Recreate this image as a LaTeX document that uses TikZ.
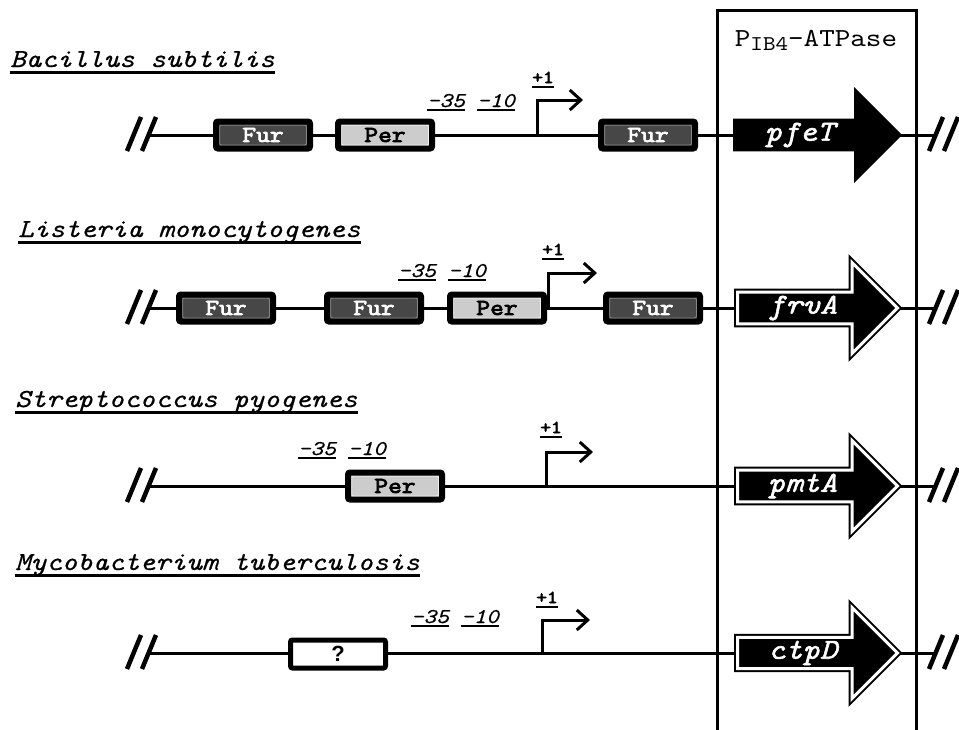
\documentclass[tikz,border=0pt]{standalone}
\usepackage{fontspec}
\setmainfont{lmmono10-regular.otf}[FakeStretch=1.14,
  ItalicFont=lmmono10-italic.otf, ItalicFeatures={FakeBold=0.5},
  BoldFont=lmmono10-regular.otf, BoldFeatures={FakeBold=3},
  BoldItalicFont=lmmono10-italic.otf, BoldItalicFeatures={FakeBold=1.8}]
\newfontfamily\qmarkfont{Liberation Sans}
\usetikzlibrary{shapes.arrows, positioning, arrows.meta}
\definecolor{furfill}{gray}{0.28}
\definecolor{furedge}{gray}{0.52}
\definecolor{perfill}{gray}{0.80}
\definecolor{peredge}{gray}{0.93}
\newcommand{\undertext}[2][0.22em]{\setbox0\hbox{#2}\rlap{\rule[-#1]{\wd0}{0.11em}}\box0}

\begin{document}
\begin{tikzpicture}[
    x=1pt, y=-1pt,
    dna/.style={line width=3pt},
    frame/.style={line width=3pt},
    brk/.style={line width=4.5pt},
    tss/.style={line width=3pt, -{Straight Barb[length=11pt, width=20pt]}},
    site/.style={rectangle, rounded corners=2pt, draw=black, line width=6pt, minimum width=94pt, minimum height=27pt, inner sep=0pt, font=\bfseries\fontsize{23}{23}\selectfont},
    rim/.style={path picture={\draw[line width=1pt, #1] ([shift={(3.5pt,-3.5pt)}]path picture bounding box.north west) rectangle ([shift={(-3.5pt,3.5pt)}]path picture bounding box.south east);}},
    fur/.style={site, fill=furfill, text=white, rim=furedge},
    per/.style={site, fill=perfill, rim=peredge},
    unk/.style={site, fill=white, line width=5pt, minimum width=95pt, minimum height=28pt, font=\qmarkfont\bfseries\fontsize{22}{22}\selectfont},
    gene/.style={single arrow, anchor=tail, text=white, inner sep=0pt, font=\bfseries\itshape\fontsize{29}{29}\selectfont},
    solidgene/.style={gene, fill=black, minimum height=169pt, minimum width=96pt, single arrow head extend=24pt},
    opengene/.style={gene, fill=black, draw=black, double=white, double distance=3pt, line width=2pt, minimum height=160pt, minimum width=91pt, single arrow head extend=25pt},
    title/.style={anchor=base west, inner sep=0pt, font=\itshape\fontsize{26}{26}\selectfont},
    box/.style={anchor=base, inner sep=0pt, font=\itshape\fontsize{21}{21}\selectfont},
    start/.style={anchor=base, inner sep=0pt, font=\bfseries\fontsize{18}{18}\selectfont},
    brkmark/.pic={\draw[brk] (-16,16) -- (-2,-18); \draw[brk] (-1,16) -- (13,-18);}
]
\useasboundingbox (0,0) rectangle (959,729);

% P1B4-ATPase frame
\draw[frame] (717,731) -- (717,10) -- (916,10) -- (916,731);
\node[font=\fontsize{26}{26}\selectfont] (atpase) at (816,40) {P\raisebox{-4pt}{\fontsize{21}{21}\selectfont IB4}-ATPase};

% Bacillus subtilis
\node[title] (bsub) at (10,67) {\undertext[0.25em]{Bacillus subtilis}};
\coordinate (a1) at (149,135);
\coordinate (b1) at (936,135);
\draw[dna] (a1) -- (b1);
\coordinate (s1) at (537,135);
\coordinate (e1) at (583,100);
\draw[tss] (s1) |- (e1);
\node[fur] (fur1a) at (263,135) {Fur};
\node[per] (per1) at (385,135) {Per};
\node[fur] (fur1b) at (648,135) {Fur};
\node[box] (m35a) at (446,107) {\undertext[0.19em]{\textendash35}};
\node[box] (m10a) at (496,107) {\undertext[0.19em]{\textendash10}};
\node[start] (p1a) at (543,83) {\undertext[0.25em]{+1}};
\node[solidgene] (pfeT) at (733,135) {pfeT\hspace*{20pt}};
\pic at (143,135) {brkmark};
\pic at (945,135) {brkmark};

% Listeria monocytogenes
\node[title] (lmon) at (18,237) {\undertext[0.25em]{Listeria monocytogenes}};
\coordinate (a2) at (149,308);
\coordinate (b2) at (936,308);
\draw[dna] (a2) -- (b2);
\coordinate (s2) at (548,308);
\coordinate (e2) at (597,273);
\draw[tss] (s2) |- (e2);
\node[fur] (fur2a) at (226,308) {Fur};
\node[fur] (fur2b) at (374,308) {Fur};
\node[per] (per2) at (497,308) {Per};
\node[fur] (fur2c) at (653,308) {Fur};
\node[box] (m35b) at (417,277) {\undertext[0.19em]{\textendash35}};
\node[box] (m10b) at (467,277) {\undertext[0.19em]{\textendash10}};
\node[start] (p1b) at (553,255) {\undertext[0.25em]{+1}};
\node[opengene] (frvA) at (736.5,308) {frvA\hspace*{14pt}};
\pic at (143,308) {brkmark};
\pic at (945,308) {brkmark};

% Streptococcus pyogenes
\node[title] (spyo) at (15,407) {\undertext[0.25em]{Streptococcus pyogenes}};
\coordinate (a3) at (149,486);
\coordinate (b3) at (936,486);
\draw[dna] (a3) -- (b3);
\coordinate (s3) at (546,486);
\coordinate (e3) at (593,452);
\draw[tss] (s3) |- (e3);
\node[per] (per3) at (395,486) {Per};
\node[box] (m35c) at (317,455) {\undertext[0.19em]{\textendash35}};
\node[box] (m10c) at (367,455) {\undertext[0.19em]{\textendash10}};
\node[start] (p1c) at (551,433) {\undertext[0.25em]{+1}};
\node[opengene] (pmtA) at (736.5,486) {pmtA\hspace*{14pt}};
\pic at (143,486) {brkmark};
\pic at (945,486) {brkmark};

% Mycobacterium tuberculosis
\node[title] (mtub) at (15,570) {\undertext[0.25em]{Mycobacterium tuberculosis}};
\coordinate (a4) at (149,653);
\coordinate (b4) at (936,653);
\draw[dna] (a4) -- (b4);
\coordinate (s4) at (542,653);
\coordinate (e4) at (590,620);
\draw[tss] (s4) |- (e4);
\node[unk] (unk4) at (338,654) {?};
\node[box] (m35d) at (430,623) {\undertext[0.19em]{\textendash35}};
\node[box] (m10d) at (480,623) {\undertext[0.19em]{\textendash10}};
\node[start] (p1d) at (547,603) {\undertext[0.25em]{+1}};
\node[opengene] (ctpD) at (736.5,653) {ctpD\hspace*{14pt}};
\pic at (143,653) {brkmark};
\pic at (945,653) {brkmark};
\end{tikzpicture}
\end{document}
